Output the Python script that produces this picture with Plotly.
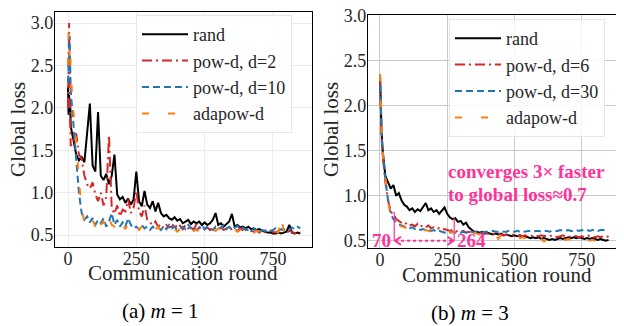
import plotly.graph_objects as go

ROUNDS = [0, 2, 4, 6, 8] + list(range(10, 860, 10))

# ---- (a) m = 1 ----
A_RAND = [2.25, 1.92, 2.15, 1.95, 2.05, 1.78,
          1.62, 1.45, 1.38, 1.42, 1.36, 1.72, 2.05, 1.32, 1.25,
          1.95, 1.2, 1.15, 1.22, 1.1, 1.2, 1.45, 0.98, 0.92, 0.95,
          0.88, 0.93, 0.86, 0.92, 1.25, 0.9, 0.84, 1.02, 0.86, 0.82,
          0.9, 0.78, 0.88, 0.76, 0.72, 0.74, 0.7, 0.68, 0.71, 0.67,
          0.69, 0.64, 0.66, 0.68, 0.63, 0.66, 0.64, 0.66, 0.62, 0.65,
          0.62, 0.64, 0.68, 0.76, 0.62, 0.64, 0.6, 0.63, 0.66, 0.75,
          0.6, 0.62, 0.59, 0.6, 0.58, 0.6, 0.57, 0.58, 0.56, 0.57,
          0.55, 0.54, 0.53, 0.53, 0.52, 0.52, 0.53, 0.52, 0.53, 0.54,
          0.62, 0.53, 0.52, 0.53, 0.52]
A_POW2 = [2.0, 2.6, 3.0, 2.3, 1.7, 1.55,
          1.62, 1.7, 1.45, 1.4, 1.2, 1.1, 1.05, 1.12, 0.98,
          0.9, 1.0, 0.85, 0.95, 1.68, 0.82, 0.75, 0.85, 0.72, 0.8,
          0.78, 0.92, 0.76, 0.82, 1.02, 0.78, 0.72, 0.85, 0.68, 0.65,
          0.62, 0.66, 0.6, 0.63, 0.58, 0.62, 0.59, 0.6, 0.64, 0.58,
          0.61, 0.57, 0.62, 0.58, 0.6, 0.56, 0.63, 0.58, 0.6, 0.57,
          0.59, 0.56, 0.6, 0.58, 0.57, 0.59, 0.56, 0.58, 0.6, 0.56,
          0.57, 0.55, 0.58, 0.56, 0.54, 0.57, 0.55, 0.54, 0.55, 0.53,
          0.55, 0.54, 0.53, 0.55, 0.54, 0.53, 0.55, 0.54, 0.56, 0.53,
          0.55, 0.54, 0.52, 0.54, 0.53]
A_POW10 = [2.3, 2.6, 2.8, 2.85, 2.5, 2.2,
           1.8, 1.35, 1.0, 0.76, 0.68, 0.72, 0.65, 0.7, 0.62,
           0.68, 0.64, 0.7, 0.6, 0.66, 0.76, 0.62, 0.68, 0.6, 0.65,
           0.6, 0.7, 0.62, 0.58, 0.6, 0.57, 0.62, 0.58, 0.6, 0.56,
           0.6, 0.57, 0.59, 0.56, 0.6, 0.57, 0.62, 0.58, 0.6, 0.56,
           0.58, 0.6, 0.57, 0.62, 0.58, 0.6, 0.56, 0.59, 0.62, 0.57,
           0.6, 0.58, 0.56, 0.6, 0.57, 0.59, 0.62, 0.57, 0.6, 0.56,
           0.58, 0.61, 0.57, 0.59, 0.56, 0.58, 0.55, 0.57, 0.56, 0.54,
           0.56, 0.55, 0.57, 0.55, 0.56, 0.58, 0.55, 0.57, 0.56, 0.58,
           0.56, 0.59, 0.57, 0.6, 0.58]
A_ADA = [2.5, 2.9, 2.75, 2.6, 2.7, 2.4,
         1.95, 1.6, 1.15, 0.8, 0.66, 0.7, 0.62, 0.68, 0.6,
         0.72, 0.62, 0.66, 0.58, 0.7, 0.62, 0.6, 0.66, 0.58, 0.62,
         0.57, 0.64, 0.6, 0.57, 0.62, 0.56, 0.6, 0.57, 0.59, 0.55,
         0.58, 0.56, 0.6, 0.55, 0.57, 0.55, 0.58, 0.55, 0.57, 0.54,
         0.57, 0.55, 0.58, 0.56, 0.6, 0.55, 0.57, 0.54, 0.56, 0.55,
         0.58, 0.54, 0.56, 0.55, 0.58, 0.55, 0.57, 0.54, 0.56, 0.55,
         0.57, 0.54, 0.56, 0.55, 0.6, 0.54, 0.55, 0.53, 0.55, 0.54,
         0.53, 0.55, 0.53, 0.54, 0.52, 0.54, 0.53, 0.72, 0.54, 0.53,
         0.52, 0.5, 0.51, 0.5, 0.51]

# ---- (b) m = 3 ----
B_RAND = [2.35, 2.05, 1.85, 1.7, 1.6, 1.5,
          1.22, 1.15, 1.08, 1.12, 1.0, 1.03, 0.95, 0.9, 0.88,
          0.84, 0.86, 0.82, 0.85, 0.83, 0.88, 0.92, 0.84, 0.86, 0.82,
          0.84, 0.8, 0.83, 0.87, 0.8, 0.76, 0.74, 0.75, 0.71, 0.72,
          0.68, 0.7, 0.65, 0.63, 0.6, 0.6, 0.59, 0.6, 0.58, 0.59,
          0.58, 0.57, 0.58, 0.57, 0.58, 0.56, 0.57, 0.56, 0.55, 0.56,
          0.55, 0.56, 0.54, 0.55, 0.54, 0.53, 0.54, 0.53, 0.54, 0.52,
          0.53, 0.52, 0.51, 0.52, 0.51, 0.52, 0.53, 0.52, 0.53, 0.54,
          0.53, 0.54, 0.53, 0.54, 0.53, 0.52, 0.53, 0.52, 0.53, 0.52,
          0.51, 0.52, 0.51, 0.5, 0.51]
B_POW6 = [2.3, 2.0, 1.8, 1.65, 1.55, 1.45,
          1.15, 0.95, 0.82, 0.8, 0.74, 0.72, 0.71, 0.68, 0.7,
          0.67, 0.68, 0.66, 0.69, 0.66, 0.67, 0.65, 0.67, 0.64, 0.65,
          0.63, 0.64, 0.62, 0.63, 0.62, 0.61, 0.62, 0.6, 0.61, 0.6,
          0.61, 0.59, 0.6, 0.59, 0.6, 0.58, 0.59, 0.58, 0.59, 0.58,
          0.57, 0.58, 0.57, 0.58, 0.57, 0.56, 0.57, 0.56, 0.57, 0.56,
          0.55, 0.56, 0.55, 0.56, 0.55, 0.56, 0.55, 0.56, 0.55, 0.56,
          0.55, 0.56, 0.55, 0.56, 0.55, 0.54, 0.55, 0.56, 0.55, 0.54,
          0.55, 0.56, 0.55, 0.54, 0.55, 0.54, 0.55, 0.56, 0.55, 0.54,
          0.55, 0.54, 0.55, 0.54, 0.55]
B_POW30 = [2.35, 2.05, 1.85, 1.7, 1.58, 1.48,
           1.18, 0.95, 0.8, 0.74, 0.7, 0.68, 0.67, 0.66, 0.65,
           0.64, 0.65, 0.63, 0.64, 0.62, 0.63, 0.62, 0.63, 0.61, 0.62,
           0.6, 0.61, 0.6, 0.59, 0.6, 0.59, 0.6, 0.59, 0.6, 0.59,
           0.6, 0.59, 0.6, 0.6, 0.59, 0.6, 0.6, 0.59, 0.6, 0.6,
           0.6, 0.61, 0.6, 0.6, 0.61, 0.6, 0.6, 0.61, 0.6, 0.6,
           0.61, 0.6, 0.61, 0.6, 0.61, 0.61, 0.6, 0.61, 0.61, 0.6,
           0.61, 0.61, 0.6, 0.61, 0.61, 0.61, 0.62, 0.61, 0.61, 0.62,
           0.61, 0.61, 0.62, 0.61, 0.62, 0.61, 0.62, 0.61, 0.62, 0.62,
           0.61, 0.62, 0.62, 0.62, 0.62]
B_ADA = [2.35, 2.1, 1.9, 1.72, 1.6, 1.5,
         1.2, 0.93, 0.78, 0.72, 0.69, 0.67, 0.66, 0.65, 0.64,
         0.63, 0.64, 0.62, 0.63, 0.62, 0.61, 0.62, 0.61, 0.6, 0.61,
         0.6, 0.61, 0.6, 0.59, 0.6, 0.6, 0.59, 0.6, 0.59, 0.6,
         0.59, 0.58, 0.59, 0.58, 0.59, 0.58, 0.57, 0.58, 0.57, 0.58,
         0.57, 0.56, 0.57, 0.52, 0.56, 0.55, 0.56, 0.55, 0.54, 0.55,
         0.54, 0.53, 0.54, 0.53, 0.54, 0.5, 0.53, 0.52, 0.53, 0.52,
         0.49, 0.52, 0.51, 0.52, 0.51, 0.5, 0.51, 0.52, 0.51, 0.52,
         0.51, 0.52, 0.51, 0.5, 0.51, 0.52, 0.51, 0.5, 0.51, 0.5,
         0.51, 0.5, 0.5, 0.49, 0.5]

X_TICKS = [0, 250, 500, 750]
Y_TICKS = [0.5, 1.0, 1.5, 2.0, 2.5, 3.0]
Y_TICK_TEXT = ["0.5", "1.0", "1.5", "2.0", "2.5", "3.0"]

NAMES_A = ["rand", "pow-d, d=2", "pow-d, d=10", "adapow-d"]
NAMES_B = ["rand", "pow-d, d=6", "pow-d, d=30", "adapow-d"]
COLORS = ["#000000", "#d62728", "#1f77b4", "#ff7f0e"]
DASHES = ["solid", "10px,4px,2px,4px", "7px,4px", "7px,19px"]

FONT = "Liberation Serif"
TXT = "#262626"
PINK = "#ff3399"

fig = go.Figure()

for i, (ys, nm) in enumerate(zip([A_RAND, A_POW2, A_POW10, A_ADA], NAMES_A)):
    fig.add_trace(go.Scatter(x=ROUNDS, y=ys, name=nm, mode="lines",
                             line=dict(color=COLORS[i], width=2, dash=DASHES[i]),
                             xaxis="x", yaxis="y", legend="legend",
                             legendgroup="a%d" % i))
for i, (ys, nm) in enumerate(zip([B_RAND, B_POW6, B_POW30, B_ADA], NAMES_B)):
    fig.add_trace(go.Scatter(x=ROUNDS, y=ys, name=nm, mode="lines",
                             line=dict(color=COLORS[i], width=2, dash=DASHES[i]),
                             xaxis="x2", yaxis="y2", legend="legend2",
                             legendgroup="b%d" % i))

# the page body has an 8px default margin: figure is drawn 8px right/down
OFF = 8
W, H = 616, 318
def px(x):
    return (x - OFF) / W
def py(y):
    return 1 - (y - OFF) / H

axis_common = dict(showline=True, linecolor="black", linewidth=1.2, mirror=True,
                   ticks="", zeroline=False, automargin=False, ticklabeloverflow="allow",
                   tickfont=dict(family=FONT, size=18, color=TXT))

legend_common = dict(xanchor="left", yanchor="top",
                     bgcolor="rgba(255,255,255,0.85)", bordercolor="#e6e6e6", borderwidth=1,
                     font=dict(family=FONT, size=18, color=TXT), itemwidth=46,
                     tracegroupgap=0, traceorder="grouped")

fig.update_layout(
    template="none",
    width=W, height=H, margin=dict(l=0, r=0, t=0, b=0, pad=0, autoexpand=False),
    paper_bgcolor="white", plot_bgcolor="white",
    xaxis=dict(domain=[px(55), px(312)], range=[-47.6, 893], tickvals=X_TICKS,
               gridcolor="#ececec", anchor="y", ticklabelstandoff=-5, **axis_common),
    yaxis=dict(domain=[py(247), py(12)], range=[0.36, 3.13], tickvals=Y_TICKS,
               ticktext=Y_TICK_TEXT, gridcolor="#ececec", anchor="x",
               ticklabelstandoff=-3, **axis_common),
    xaxis2=dict(domain=[px(368), px(622)], range=[-44.6, 900], tickvals=X_TICKS,
                gridcolor="#c8c8c8", anchor="y2", ticklabelstandoff=-5, **axis_common),
    yaxis2=dict(domain=[py(248), py(15)], range=[0.42, 3.008], tickvals=Y_TICKS,
                ticktext=Y_TICK_TEXT, gridcolor="#c8c8c8", anchor="x2",
                ticklabelstandoff=-3, **axis_common),
    legend=dict(x=px(136), y=py(15), **legend_common),
    legend2=dict(x=px(449), y=py(19), **legend_common),
    showlegend=True,
)

def note(text, x, y, size, color, **kw):
    d = dict(text=text, x=px(x), y=py(y), xref="paper", yref="paper",
             xanchor="center", yanchor="middle", showarrow=False,
             font=dict(family=FONT, size=size, color=color))
    d.update(kw)
    return d

ann = [
    note("Global loss", 18, 130, 21, TXT, textangle=-90),
    note("Global loss", 331, 130, 21, TXT, textangle=-90),
    note("Communication round", 183, 273, 21, TXT),
    note("Communication round", 497, 275, 21, TXT),
    note("(a) <i>m</i> = 1", 160, 311, 21, "black"),
    note("(b) <i>m</i> = 3", 470, 313, 21, "black"),
    note("<b>converges 3× faster</b>", 446, 171, 19, PINK, xanchor="left"),
    note("<b>to global loss≈0.7</b>", 446, 194, 19, PINK, xanchor="left"),
    dict(text="<b>70</b>", x=53, y=0.5, xref="x2", yref="y2", xanchor="right",
         yanchor="middle", xshift=-1, showarrow=False,
         font=dict(family=FONT, size=19, color=PINK)),
    dict(text="<b>264</b>", x=276, y=0.5, xref="x2", yref="y2", xanchor="left",
         yanchor="middle", xshift=1, showarrow=False,
         font=dict(family=FONT, size=19, color=PINK)),
]
fig.update_layout(annotations=ann)

shapes = [
    dict(type="line", xref="x2", yref="y2", x0=53, x1=53, y0=0.5, y1=0.82,
         line=dict(color=PINK, width=1.2)),
    dict(type="line", xref="x2", yref="y2", x0=276, x1=276, y0=0.5, y1=0.76,
         line=dict(color=PINK, width=1.2)),
    dict(type="line", xref="x2", yref="y2", x0=56, x1=273, y0=0.5, y1=0.5,
         line=dict(color=PINK, width=2, dash="dot")),
    dict(type="path", xref="x2", yref="y2",
         path="M 78,0.545 L 56,0.5 L 78,0.455", line=dict(color=PINK, width=2)),
    dict(type="path", xref="x2", yref="y2",
         path="M 251,0.545 L 273,0.5 L 251,0.455", line=dict(color=PINK, width=2)),
]
fig.update_layout(shapes=shapes)

fig.write_html("out.html")
